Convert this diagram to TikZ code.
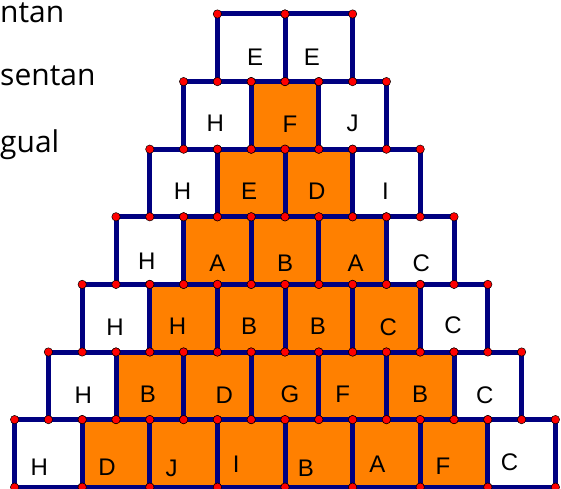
\documentclass[tikz,border=0pt]{standalone}
\usepackage{fontspec}
\setmainfont{Liberation Sans}
\newfontfamily\notefont{Open Sans}
\usetikzlibrary{positioning, calc}
\definecolor{gridNavy}{HTML}{000080}
\definecolor{cellOrange}{HTML}{FF8000}
\definecolor{dotRed}{HTML}{FF0000}

% row / letters with small offsets (letter/dx/dy)
\def\pyramid{1/{E/4/9,E/-7/9},
  2/{H/-2/8,F/5/9,J/0/8},
  3/{H/-1/8,E/-2/8,D/-2/8,I/-1/8},
  4/{H/-3/11,A/0/13,B/0/13,A/3/13,C/1/13},
  5/{H/-1/9,H/-6/8,B/-2/8,B/-1/8,C/2/9,C/-1/7},
  6/{H/1/9,B/-2/8,D/7/9,G/5/8,F/-10/8,B/0/8,C/-3/9},
  7/{H/-9/14,D/-9/14,J/-12/15,I/-15/11,B/-13/15,A/-9/11,F/-11/13,C/-12/9}}

\begin{document}
\begin{tikzpicture}[
    x=1bp, y=-1bp,
    font=\fontsize{24bp}{28bp}\selectfont,
    cell/.style={rectangle, minimum size=67.6bp, inner sep=0pt, outer sep=0pt},
    edge/.style={draw=gridNavy, line width=5bp},
    corner/.style={fill=dotRed, draw=black, line width=0.5bp},
    letter/.style={inner sep=0pt},
    note/.style={anchor=base west, inner sep=0pt, font=\notefont\fontsize{30bp}{36bp}\selectfont}
]
\useasboundingbox (0,0) rectangle (561,489);

\node[note] (line1) at (0,23) {ntan};
\node[note] (line2) at (0,86) {sentan};
\node[note] (line3) at (0,153) {gual};

% cells and letters
\foreach \r/\row in \pyramid {
  \foreach \l/\dx/\dy [count=\c] in \row {
    \pgfmathsetmacro\xc{285-(\r+1)*33.8+(\c-0.5)*67.6}
    \pgfmathsetmacro\yc{14+(\r-0.5)*67.6}
    \pgfmathtruncatemacro\inner{(\r>1)&&(\c>1)&&(\c<\r+1)}
    \ifnum\inner=1 \def\cellfill{cellOrange}\else\def\cellfill{white}\fi
    \node[cell, fill=\cellfill] (c-\r-\c) at (\xc,\yc) {};
    \node[letter] (l-\r-\c) at ($(c-\r-\c)+(\dx,\dy)$) {\l};
  }
}

% edges
\foreach \r/\row in \pyramid {
  \foreach \l [count=\c] in \row {
    \draw[edge] (c-\r-\c.north west) rectangle (c-\r-\c.south east);
  }
}

% corner points
\foreach \r/\row in \pyramid {
  \foreach \l [count=\c] in \row {
    \foreach \a in {north west, north east, south west, south east}
      \filldraw[corner] (c-\r-\c.\a) circle (4.2bp);
  }
}

\end{tikzpicture}
\end{document}
